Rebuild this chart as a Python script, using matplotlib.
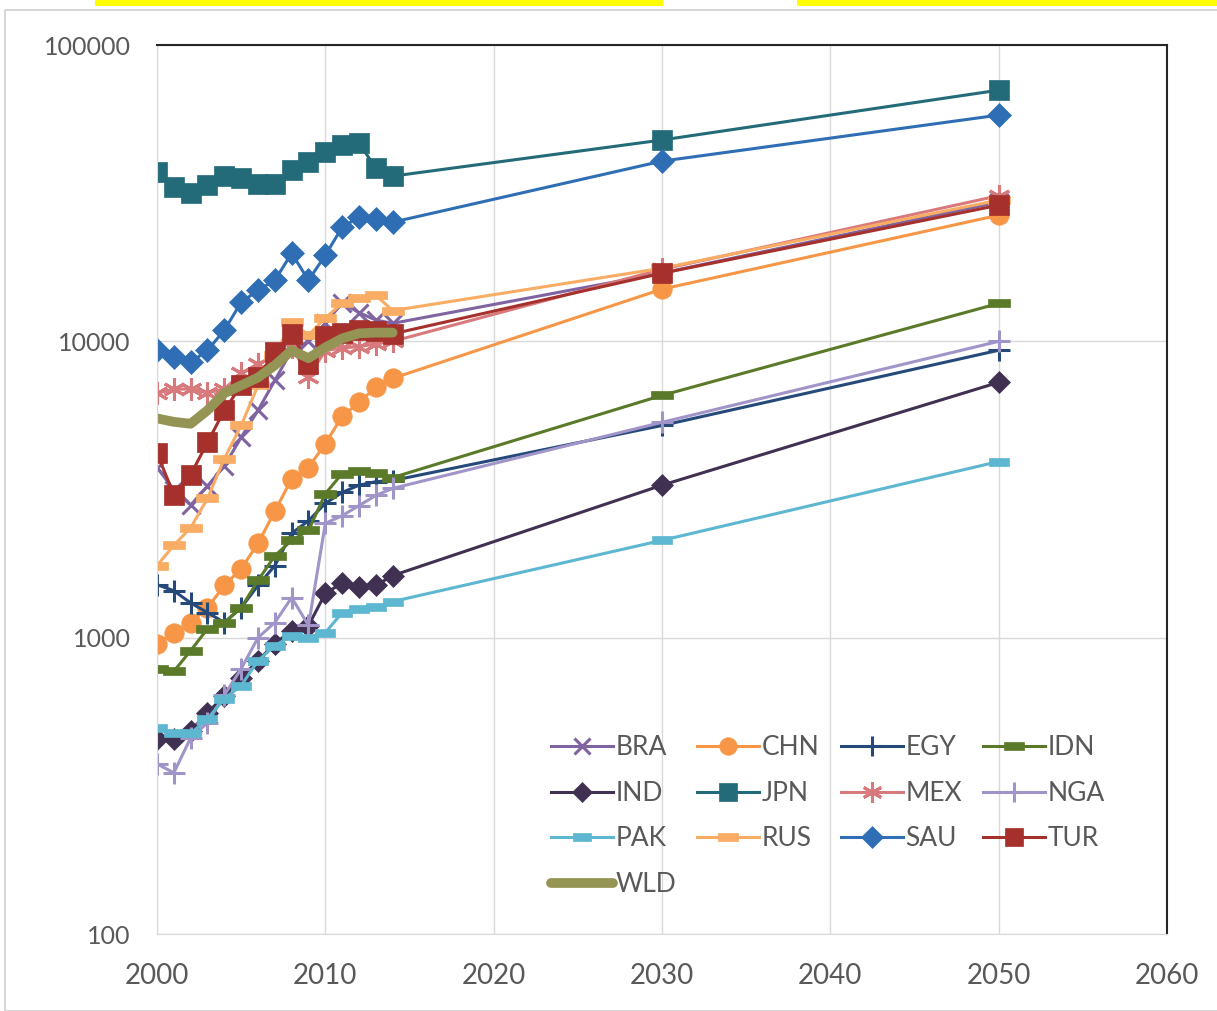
import matplotlib.pyplot as plt
from matplotlib.patches import Rectangle

plt.rcParams['font.family'] = ['Lato', 'DejaVu Sans']

# years with data
years = [2000, 2001, 2002, 2003, 2004, 2005, 2006, 2007, 2008, 2009,
         2010, 2011, 2012, 2013, 2014, 2030, 2050]
years_wld = years[:15]

BRA = [3750, 3160, 2800, 3250, 3800, 4740, 5850, 7380, 9330, 10000,
       11500, 13500, 12500, 11800, 11500, 17000, 29500]
CHN = [955, 1040, 1125, 1262, 1500, 1710, 2080, 2670, 3440, 3750,
       4520, 5580, 6220, 7000, 7500, 15000, 26650]
EGY = [1510, 1440, 1310, 1215, 1125, 1262, 1500, 1750, 2250, 2480,
       2840, 3090, 3270, 3360, 3390, 5200, 9330]
IDN = [785, 770, 904, 1072, 1125, 1262, 1560, 1890, 2130, 2300,
       3060, 3580, 3660, 3600, 3470, 6570, 13430]
IND = [456, 456, 485, 558, 637, 733, 836, 955, 1057, 1099,
       1410, 1530, 1480, 1500, 1620, 3270, 7270]
JPN = [37250, 33100, 31600, 33650, 36100, 35550, 33900, 33900, 37830, 40300,
       43550, 45950, 46700, 38400, 36100, 47800, 70400]
MEX = [6680, 6900, 6900, 6700, 6900, 7800, 8400, 8900, 9600, 7600,
       9300, 9500, 9600, 9800, 10000, 17500, 31000]
NGA = [375, 350, 459, 516, 640, 785, 1000, 1125, 1365, 1100,
       2430, 2580, 2790, 3020, 3190, 5330, 10000]
PAK = [497, 475, 475, 532, 622, 689, 836, 940, 1015, 1000,
       1040, 1215, 1253, 1270, 1324, 2130, 3930]
RUS = [1750, 2050, 2350, 2950, 4020, 5200, 7100, 9000, 11590, 10500,
       12000, 13430, 14000, 14300, 12700, 17650, 29950]
SAU = [9330, 8840, 8490, 9330, 10900, 13550, 14860, 16070, 19820, 16070,
       19530, 24270, 26240, 25850, 25240, 40560, 58000]
TUR = [4190, 3040, 3550, 4560, 5850, 7100, 7600, 9180, 10600, 8370,
       10400, 10700, 10900, 10800, 10600, 16970, 28800]
WLD = [5495, 5350, 5270, 5850, 6680, 7100, 7550, 8300, 9330, 8770,
       9540, 10230, 10640, 10700, 10700]

dash = [(-1, -0.38), (1, -0.38), (1, 0.38), (-1, 0.38), (-1, -0.38)]
asterisk = (6, 2, 0)

series = [
    ('BRA', BRA, '#8064A2', 'x', 13, 2.2),
    ('CHN', CHN, '#F79646', 'o', 14, 2.2),
    ('EGY', EGY, '#254A7A', '+', 16, 2.2),
    ('IDN', IDN, '#5A7A2A', dash, 16, 2.2),
    ('IND', IND, '#403152', 'D', 11, 2.2),
    ('JPN', JPN, '#236B78', 's', 15, 2.2),
    ('MEX', MEX, '#D8797C', asterisk, 16, 2.2),
    ('NGA', NGA, '#A094C8', '+', 16, 2.2),
    ('PAK', PAK, '#5DB7D1', dash, 15, 2.2),
    ('RUS', RUS, '#F9AC63', dash, 16, 2.2),
    ('SAU', SAU, '#2F6EB5', 'D', 12, 2.2),
    ('TUR', TUR, '#A5302C', 's', 15, 2.2),
]

fig = plt.figure(figsize=(12.17, 10.11), dpi=100)
ax = fig.add_axes([157 / 1217, 1 - 934 / 1011, 1010 / 1217, 889 / 1011])

lines = {}
for name, vals, col, mk, ms, lw in series:
    ln, = ax.plot(years, vals, color=col, marker=mk, markersize=ms, lw=lw,
                  markeredgewidth=2.2 if mk in ('x', '+', asterisk) else 0.5,
                  markeredgecolor=col, markerfacecolor=col, label=name)
    lines[name] = ln
ln, = ax.plot(years_wld, WLD, color='#949454', lw=7, solid_capstyle='round',
              label='WLD')
lines['WLD'] = ln

ax.set_yscale('log')
ax.set_ylim(100, 100000)
ax.set_xlim(2000, 2060)
ax.set_xticks(range(2000, 2061, 10))
ax.set_yticks([100, 1000, 10000, 100000])
ax.set_yticklabels(['100', '1000', '10000', '100000'])
ax.minorticks_off()
ax.grid(True, color='#D9D9D9', lw=1)
ax.set_axisbelow(True)
ax.tick_params(length=0, labelcolor='#595959')
ax.tick_params(axis='y', labelsize=18, pad=19)
ax.tick_params(axis='x', labelsize=20, pad=21)
for s in ('left', 'bottom'):
    ax.spines[s].set_color('#D9D9D9')
for s in ('top', 'right'):
    ax.spines[s].set_color('#262626')
    ax.spines[s].set_linewidth(1.5)

order = ['BRA', 'IND', 'PAK', 'WLD', 'CHN', 'JPN', 'RUS',
         'EGY', 'MEX', 'SAU', 'IDN', 'NGA', 'TUR']
leg = ax.legend([lines[n] for n in order], order, ncol=4, frameon=False,
                loc='lower right', bbox_to_anchor=(0.962, 0.015),
                fontsize=19, handlelength=2.35, columnspacing=0.8,
                labelspacing=0.78, handletextpad=0.1, markerscale=0.9)
for t in leg.get_texts():
    t.set_color('#595959')

# outer chart frame and the yellow strips on top
fig.patches.append(Rectangle((5 / 1217, 0), 1.1, 1 - 10 / 1011, fill=False,
                             ec='#D0D0D0', lw=1.2, transform=fig.transFigure))
fig.patches.append(Rectangle((95 / 1217, 1 - 6 / 1011), 568 / 1217, 6 / 1011,
                             fc='#FFFF00', ec='none', transform=fig.transFigure))
fig.patches.append(Rectangle((797 / 1217, 1 - 6 / 1011), 420 / 1217, 6 / 1011,
                             fc='#FFFF00', ec='none', transform=fig.transFigure))

fig.savefig('out.png', dpi=100)
